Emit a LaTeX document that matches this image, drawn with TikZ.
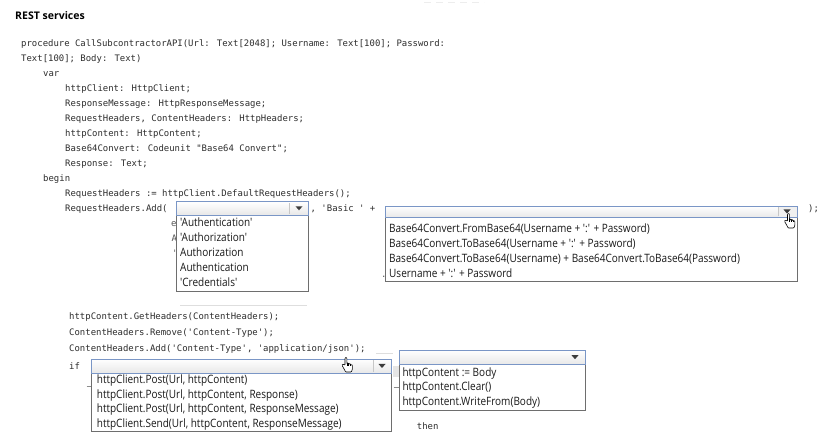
\documentclass[tikz,border=0pt]{standalone}
\usepackage{fontspec}
\setmainfont{Open Sans}
\newfontfamily\uifont[FakeStretch=0.87,Ligatures=ResetAll]{Open Sans}
\newfontfamily\titlefont{Open Sans}
\newfontfamily\codefont[Ligatures=ResetAll]{DejaVu Sans Mono}
\definecolor{codegray}{RGB}{45,45,45}
\definecolor{itemtext}{RGB}{25,25,25}
\definecolor{comboblue}{RGB}{122,150,198}
\definecolor{listgray}{RGB}{110,110,110}
\definecolor{arrowgray}{RGB}{60,60,60}
\tikzset{
  code/.style={font=\codefont\fontsize{8.95}{10}\selectfont, text=codegray, anchor=base west, inner sep=0pt},
  ghost/.style={font=\codefont\fontsize{8.95}{10}\selectfont, text=codegray!80, anchor=base west, inner sep=0pt},
  item/.style={font=\uifont\fontsize{11.5}{13}\selectfont, text=itemtext, anchor=base west, inner sep=0pt},
  title/.style={font=\titlefont\bfseries\fontsize{10.5}{12}\selectfont, text=black, anchor=base west, inner sep=0pt},
  combo/.style={draw=comboblue, line width=0.8pt, top color=white, bottom color=black!9},
  listbox/.style={draw=listgray, fill=white, line width=0.7pt},
  sep/.style={draw=black!22, line width=0.6pt},
  tri/.style={fill=arrowgray},
  faint/.style={draw=black!13, line width=1pt},
  handcursor/.pic={
    \draw[fill=white, draw=black, line width=0.6pt, rounded corners=0.7pt, line join=round]
      (4,1) -- (4,8.2) -- (3,7.4) -- (1.6,7.3) -- (1,8.3) -- (3,11.8) -- (4.6,15)
      -- (10.4,15) -- (11.4,12) -- (11.4,8.2) -- (10.5,7.5) -- (9.4,7.9) -- (9.3,7)
      -- (8.4,6.5) -- (7.4,7) -- (7.3,6.4) -- (6.4,5.9) -- (5.9,6.3) -- (5.9,1)
      -- (5,0.2) -- cycle;
    \draw[black, line width=0.4pt] (5.9,6.3) -- (5.9,9.5) (7.4,7) -- (7.4,9.5) (9.4,7.9) -- (9.4,9.5);
  }
}
\begin{document}
\begin{tikzpicture}[x=1pt,y=-1pt]
\fill[white] (0,0) rectangle (820,438);
\useasboundingbox (0,0) rectangle (820,438);

% faint marks at top
\draw[draw=black!7, line width=1.2pt, dash pattern=on 7pt off 5pt] (424,2.5) -- (484,2.5);

% title
\node[title] (ttl) at (15,19.5) {REST services};

% upper code
\node[code] (c0) at (21,47) {procedure CallSubcontractorAPI(Url: Text[2048]; Username: Text[100]; Password:};
\node[code] (c1) at (21,62) {Text[100]; Body: Text)};
\node[code] (c2) at (43,77) {var};
\node[code] (c3) at (65,92) {httpClient: HttpClient;};
\node[code] (c4) at (65,107) {ResponseMessage: HttpResponseMessage;};
\node[code] (c5) at (65,122) {RequestHeaders, ContentHeaders: HttpHeaders;};
\node[code] (c6) at (65,137) {httpContent: HttpContent;};
\node[code] (c7) at (65,152) {Base64Convert: Codeunit "Base64 Convert";};
\node[code] (c8) at (65,167) {Response: Text;};
\node[code] (c9) at (43,182) {begin};
\node[code] (c10) at (65,197) {RequestHeaders := httpClient.DefaultRequestHeaders();};
\node[code] (c11) at (65,212) {RequestHeaders.Add(};
\node[code] (c12) at (310.5,212) {, 'Basic ' +};
\node[code] (c13) at (808,212) {);};

% ghost fragments behind the first list
\node[ghost] (g1) at (171,227) {e};
\node[ghost] (g2) at (171.5,242) {A};
\node[ghost] (g3) at (172,257) {'};
\node[ghost] (g4) at (381,277.5) {.};
\draw[faint] (180,306) -- (307,306);

% lower code
\node[code] (d0) at (69,320) {httpContent.GetHeaders(ContentHeaders);};
\node[code] (d1) at (69,336) {ContentHeaders.Remove('Content-Type');};
\node[code] (d2) at (69,352) {ContentHeaders.Add('Content-Type', 'application/json');};
\node[code] (d3) at (69,370) {if};
\node[code] (d4) at (416.7,430) {then};
\draw[faint] (376,353.5) -- (393,353.5);
\fill[black!10] (393,366) rectangle (399,377);
\draw[black!45, line width=0.6pt] (86.5,386) -- (91.7,386);
\draw[black!45, line width=0.6pt] (393.5,387) -- (398.5,387);

% ---- dropdown 1
\draw[listbox] (176.7,215) rectangle (308,291.7);
\draw[combo] (176.7,201.7) rectangle (308,215);
\draw[sep] (289.5,203) -- (289.5,213.7);
\fill[tri] (295.5,206.3) -- (302.5,206.3) -- (299,210.3) -- cycle;
\node[item] (a1) at (180,227) {'Authentication'};
\node[item] (a2) at (180,242) {'Authorization'};
\node[item] (a3) at (180,257) {Authorization};
\node[item] (a4) at (180,272) {Authentication};
\node[item] (a5) at (180,287) {'Credentials'};

% ---- dropdown 2
\draw[listbox] (385,217.3) rectangle (797.7,281.7);
\draw[combo] (385,206) rectangle (797.7,217.3);
\fill[black!6] (778.5,207) rectangle (797,216.6);
\draw[sep] (778.5,207.3) -- (778.5,216);
\fill[tri] (783.5,209.5) -- (790.5,209.5) -- (787,213.5) -- cycle;
\node[item] (b1) at (389,233) {Base64Convert.FromBase64(Username + ':' + Password)};
\node[item] (b2) at (389,248) {Base64Convert.ToBase64(Username + ':' + Password)};
\node[item] (b3) at (389,263) {Base64Convert.ToBase64(Username) + Base64Convert.ToBase64(Password)};
\node[item] (b4) at (389,277.5) {Username + ':' + Password};
\pic at (783.5,213) {handcursor};

% ---- dropdown 3
\draw[listbox] (91.7,373) rectangle (391.7,431.7);
\draw[combo] (91.7,359) rectangle (391.7,373);
\draw[sep] (373.3,360.3) -- (373.3,371.7);
\fill[tri] (378.5,364) -- (385.5,364) -- (382,368) -- cycle;
\node[item] (e1) at (96.7,384) {httpClient.Post(Url, httpContent)};
\node[item] (e2) at (96.7,398.5) {httpClient.Post(Url, httpContent, Response)};
\node[item] (e3) at (96.7,413) {httpClient.Post(Url, httpContent, ResponseMessage)};
\node[item] (e4) at (96.7,428) {httpClient.Send(Url, httpContent, ResponseMessage)};
\pic at (341,357) {handcursor};

% ---- dropdown 4
\draw[listbox] (399,364.3) rectangle (585,410);
\draw[combo] (399,350) rectangle (585,364.3);
\fill[tri] (571.5,355.2) -- (578.5,355.2) -- (575,359.2) -- cycle;
\node[item] (f1) at (402.3,376.5) {httpContent := Body};
\node[item] (f2) at (402.3,391) {httpContent.Clear()};
\node[item] (f3) at (402.3,405.5) {httpContent.WriteFrom(Body)};
\end{tikzpicture}
\end{document}
